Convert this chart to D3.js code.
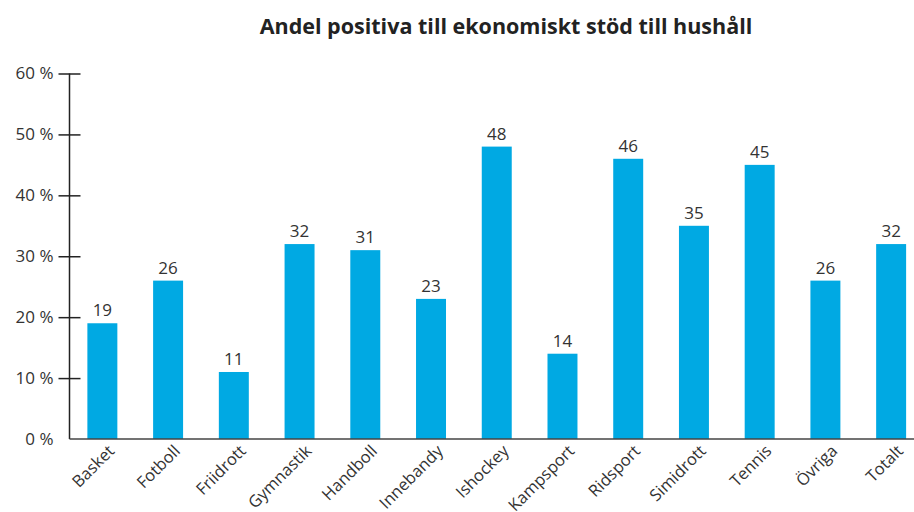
<!DOCTYPE html>
<html><head><meta charset="utf-8">
<script src="https://cdn.jsdelivr.net/npm/d3@7"></script>
<style>body{margin:0;background:#fff}</style>
</head><body>
<script>
const categories = ["Basket","Fotboll","Friidrott","Gymnastik","Handboll","Innebandy","Ishockey","Kampsport","Ridsport","Simidrott","Tennis","Övriga","Totalt"];
const values = [19,26,11,32,31,23,48,14,46,35,45,26,32];
const yTicks = [0,10,20,30,40,50,60];
const title = "Andel positiva till ekonomiskt stöd till hushåll";

const W = 914, H = 512;
const svg = d3.select("body").append("svg").attr("width", W).attr("height", H);
const font = "'Open Sans', sans-serif";
const txt = "#333";

const x = d3.scaleBand().domain(categories).range([69.5, 924]).paddingInner(0.544).paddingOuter(0.272);
const y = d3.scaleLinear().domain([0, 60]).range([439, 73.5]);

svg.append("text").attr("x", 506).attr("y", 34).attr("text-anchor", "middle")
  .attr("font-family", font).attr("font-weight", 700).attr("font-size", 21.5).attr("fill", "#222").text(title);

svg.selectAll("rect.bar").data(values).enter().append("rect")
  .attr("x", (d, i) => x(categories[i])).attr("width", x.bandwidth())
  .attr("y", d => y(d)).attr("height", d => y(0) - y(d)).attr("fill", "#00A9E3");

svg.selectAll("text.val").data(values).enter().append("text")
  .attr("x", (d, i) => x(categories[i]) + x.bandwidth() / 2).attr("y", d => y(d) - 7)
  .attr("text-anchor", "middle").attr("font-family", font).attr("font-size", 17).attr("fill", txt).text(d => d);

// y axis
const yAxis = d3.axisLeft(y).tickValues(yTicks).tickSize(0).tickFormat(d => d + " %");
const gy = svg.append("g").attr("transform", "translate(69.5,0)").call(yAxis);
gy.select(".domain").remove();
gy.selectAll("text").attr("x", -16).attr("font-family", font).attr("font-size", 17).attr("fill", txt);
gy.selectAll(".tick").filter(d => d > 0).append("line").attr("x1", -11).attr("x2", 11).attr("stroke", "#222").attr("stroke-width", 1.5);
svg.append("line").attr("x1", 69.5).attr("x2", 69.5).attr("y1", y(60)).attr("y2", y(0)).attr("stroke", "#222").attr("stroke-width", 1.5);

// x axis
const xAxis = d3.axisBottom(x).tickSize(0);
const gx = svg.append("g").attr("transform", "translate(0," + y(0) + ")").call(xAxis);
gx.select(".domain").remove();
svg.append("line").attr("x1", 69.5).attr("x2", W).attr("y1", y(0)).attr("y2", y(0)).attr("stroke", "#444").attr("stroke-width", 1.5);
gx.selectAll("text").attr("font-family", font).attr("font-size", 16.5).attr("fill", txt)
  .attr("text-anchor", "end").attr("dy", null).attr("y", 0)
  .attr("transform", "translate(13,13) rotate(-45)");
</script>
</body></html>
